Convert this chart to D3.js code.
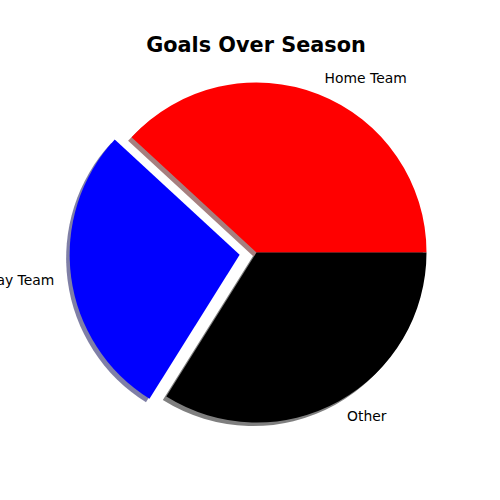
<!DOCTYPE html>
<html>
<head>
<meta charset="utf-8">
<script src="https://cdn.jsdelivr.net/npm/d3@7"></script>
<style>
  html, body { margin: 0; padding: 0; background: #fff; }
  text { font-family: "DejaVu Sans", sans-serif; }
</style>
</head>
<body>
<svg id="chart" width="500" height="500"></svg>
<script>
const categories = ["Home Team", "Away Team", "Other"];
const values = [45, 33, 40];
const colors = ["#ff0000", "#0000ff", "#000000"];
const explode = [0, 0.1, 0];
const title = "Goals Over Season";

const W = 500, H = 500;
const cx = 256.5, cy = 252.5, R = 170;
const shadowDx = -3.5, shadowDy = 3.5;

const svg = d3.select("#chart");

// matplotlib: start at east, counter-clockwise. d3: angle clockwise from north.
const pie = d3.pie().sort(null).value(d => d.v)
  .startAngle(Math.PI / 2).endAngle(Math.PI / 2 - 2 * Math.PI);
const data = categories.map((c, i) => ({ c, v: values[i], col: colors[i], ex: explode[i] }));
const arcs = pie(data);
const arc = d3.arc().innerRadius(0).outerRadius(R);

function offset(a) {
  const mid = (a.startAngle + a.endAngle) / 2;
  const d = a.data.ex * R;
  return [d * Math.sin(mid), -d * Math.cos(mid)];
}

const g = svg.append("g").attr("transform", `translate(${cx},${cy})`);

// shadows
g.selectAll("path.shadow").data(arcs).enter().append("path")
  .attr("class", "shadow")
  .attr("d", arc)
  .attr("transform", a => { const o = offset(a); return `translate(${o[0] + shadowDx},${o[1] + shadowDy})`; })
  .attr("fill", a => { const c = d3.rgb(a.data.col); return d3.rgb(c.r * 0.3, c.g * 0.3, c.b * 0.3); })
  .attr("fill-opacity", 0.5);

// wedges
g.selectAll("path.wedge").data(arcs).enter().append("path")
  .attr("class", "wedge")
  .attr("d", arc)
  .attr("transform", a => { const o = offset(a); return `translate(${o[0]},${o[1]})`; })
  .attr("fill", a => a.data.col);

// labels
g.selectAll("text.lab").data(arcs).enter().append("text")
  .attr("class", "lab")
  .each(function (a) {
    const mid = (a.startAngle + a.endAngle) / 2;
    const o = offset(a);
    const x = o[0] + 1.1 * R * Math.sin(mid);
    const y = o[1] - 1.1 * R * Math.cos(mid);
    d3.select(this).attr("x", x).attr("y", y)
      .attr("text-anchor", x > 0 ? "start" : "end")
      .attr("dominant-baseline", "central");
  })
  .attr("font-size", "13.9px")
  .attr("fill", "#000")
  .text(a => a.data.c);

svg.append("text")
  .attr("x", 256).attr("y", 45)
  .attr("text-anchor", "middle")
  .attr("dominant-baseline", "central")
  .attr("font-size", "20.8px")
  .attr("font-weight", "bold")
  .text(title);
</script>
</body>
</html>
